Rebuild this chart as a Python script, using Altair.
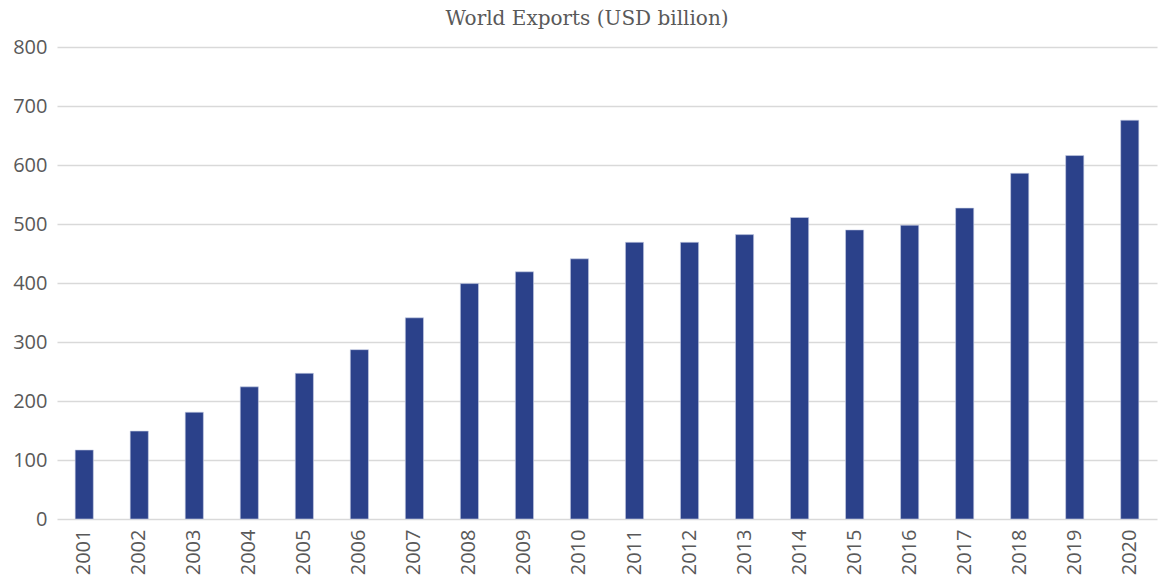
import altair as alt
import pandas as pd

years = [str(y) for y in range(2001, 2021)]
values = [117, 149, 181, 224, 247, 287, 341, 399, 419, 441,
          469, 469, 482, 511, 490, 498, 527, 586, 616, 676]

df = pd.DataFrame({"year": years, "value": values})

chart = alt.Chart(df).mark_bar(
    color="#2B418A", stroke="#c9d0e6", strokeWidth=0.6
).encode(
    x=alt.X("year:N", sort=None, title=None,
            scale=alt.Scale(paddingInner=0.67, paddingOuter=0.33),
            axis=alt.Axis(labelAngle=-90, labelAlign="right", labelBaseline="middle",
                          labelFontSize=20, labelColor="#595959", labelFont="Open Sans",
                          ticks=False, domain=False, labelPadding=10)),
    y=alt.Y("value:Q", title=None,
            scale=alt.Scale(domain=[0, 800], nice=False),
            axis=alt.Axis(values=list(range(0, 801, 100)), labelFontSize=20,
                          labelColor="#595959", labelFont="Open Sans",
                          ticks=False, domain=False, labelPadding=10,
                          gridColor="#d9d9d9", gridWidth=1.5)),
).properties(
    width=1100, height=472,
    title=alt.TitleParams("World Exports (USD billion)", font="DejaVu Serif",
                          fontSize=20, fontWeight="normal", color="#595959",
                          anchor="middle", dx=-20, offset=8),
    autosize=alt.AutoSizeParams(type="none"),
    padding={"left": 57, "top": 47, "right": 3, "bottom": 65},
).configure_view(stroke=None)

chart.save("out.html", embed_options={"renderer": "svg", "actions": False})
